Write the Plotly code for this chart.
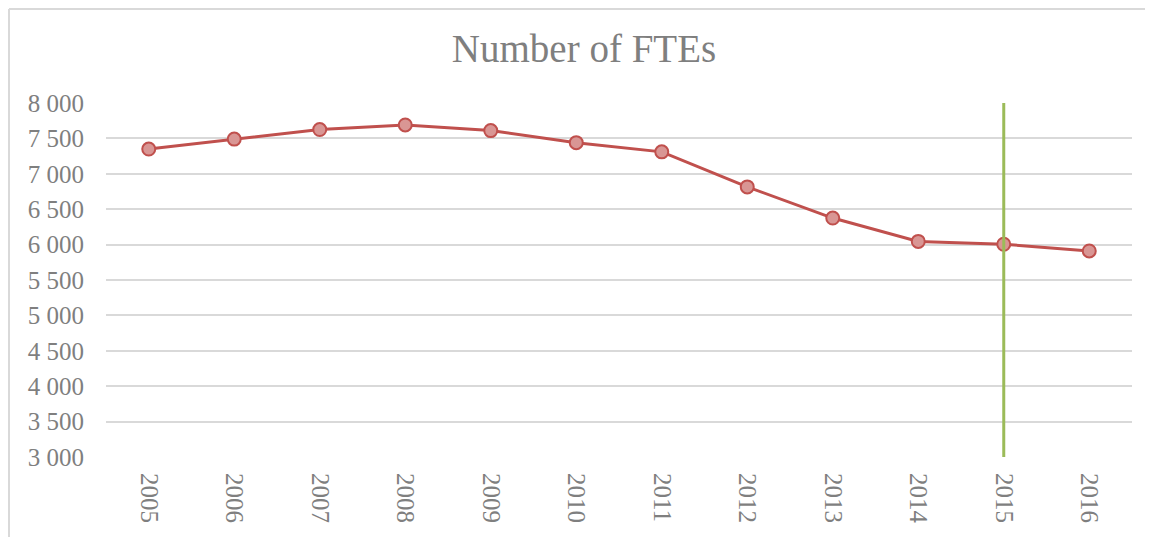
import plotly.graph_objects as go

years = ["2005", "2006", "2007", "2008", "2009", "2010", "2011", "2012", "2013", "2014", "2015", "2016"]
ftes = [7350, 7490, 7625, 7690, 7610, 7440, 7310, 6815, 6375, 6045, 6005, 5910]
marker_year = "2015"
y_ticks = [3000, 3500, 4000, 4500, 5000, 5500, 6000, 6500, 7000, 7500, 8000]
y_tick_text = ["3 000", "3 500", "4 000", "4 500", "5 000", "5 500", "6 000", "6 500", "7 000", "7 500", "8 000"]
title_text = "Number of FTEs"

FONT = "Liberation Serif"
GRAY = "#7f7f7f"
OFF = 8  # page body margin offset

fig = go.Figure()
fig.add_trace(go.Scatter(
    x=years, y=ftes, mode="lines+markers",
    line=dict(color="#C0504D", width=3),
    marker=dict(size=13, color="#D99694", line=dict(color="#C0504D", width=2)),
    showlegend=False, hoverinfo="x+y",
))
fig.add_trace(go.Scatter(
    x=[marker_year, marker_year], y=[y_ticks[0], y_ticks[-1]], mode="lines",
    line=dict(color="#9BBB59", width=3), showlegend=False, hoverinfo="skip",
))

W, H = 1153, 537
# target screen positions of plot area
sL, sR, sT, sB = 106, 1132, 103, 457
L, T = sL - OFF, sT - OFF
R = W - (sR - OFF)
B = H - (sB - OFF)
pw, ph = W - L - R, H - T - B
def px_x(p):
    return (p - OFF - L) / pw
def px_y(p):
    return 1 - (p - OFF - T) / ph

fig.update_layout(
    width=W, height=H,
    margin=dict(l=L, r=R, t=T, b=B),
    paper_bgcolor="white", plot_bgcolor="white",
    font=dict(family=FONT, color=GRAY, size=25),
    title=dict(text=title_text, x=(584 - OFF) / W, xanchor="center",
               y=1 - (48 - OFF) / H, yanchor="middle",
               font=dict(family=FONT, size=39, color=GRAY)),
    xaxis=dict(type="category", range=[-0.5, len(years) - 0.5], tickangle=90,
               showgrid=False, showline=False,
               zeroline=False, ticks="", ticklabelstandoff=15,
               tickfont=dict(family=FONT, size=25, color=GRAY)),
    yaxis=dict(range=[y_ticks[0], y_ticks[-1]], tickvals=y_ticks, ticktext=y_tick_text,
               showgrid=True, gridcolor="#d9d9d9", gridwidth=2, zeroline=False,
               showline=False, ticks="", ticklabelstandoff=21,
               tickfont=dict(family=FONT, size=25, color=GRAY)),
    shapes=[
        dict(type="line", xref="paper", yref="paper",
             x0=px_x(9), x1=px_x(9), y0=px_y(560), y1=px_y(9),
             line=dict(color="#d9d9d9", width=2), layer="below"),
        dict(type="line", xref="paper", yref="paper",
             x0=px_x(9), x1=px_x(1170), y0=px_y(9), y1=px_y(9),
             line=dict(color="#d9d9d9", width=2), layer="below"),
    ],
)

fig.write_html("out.html")
